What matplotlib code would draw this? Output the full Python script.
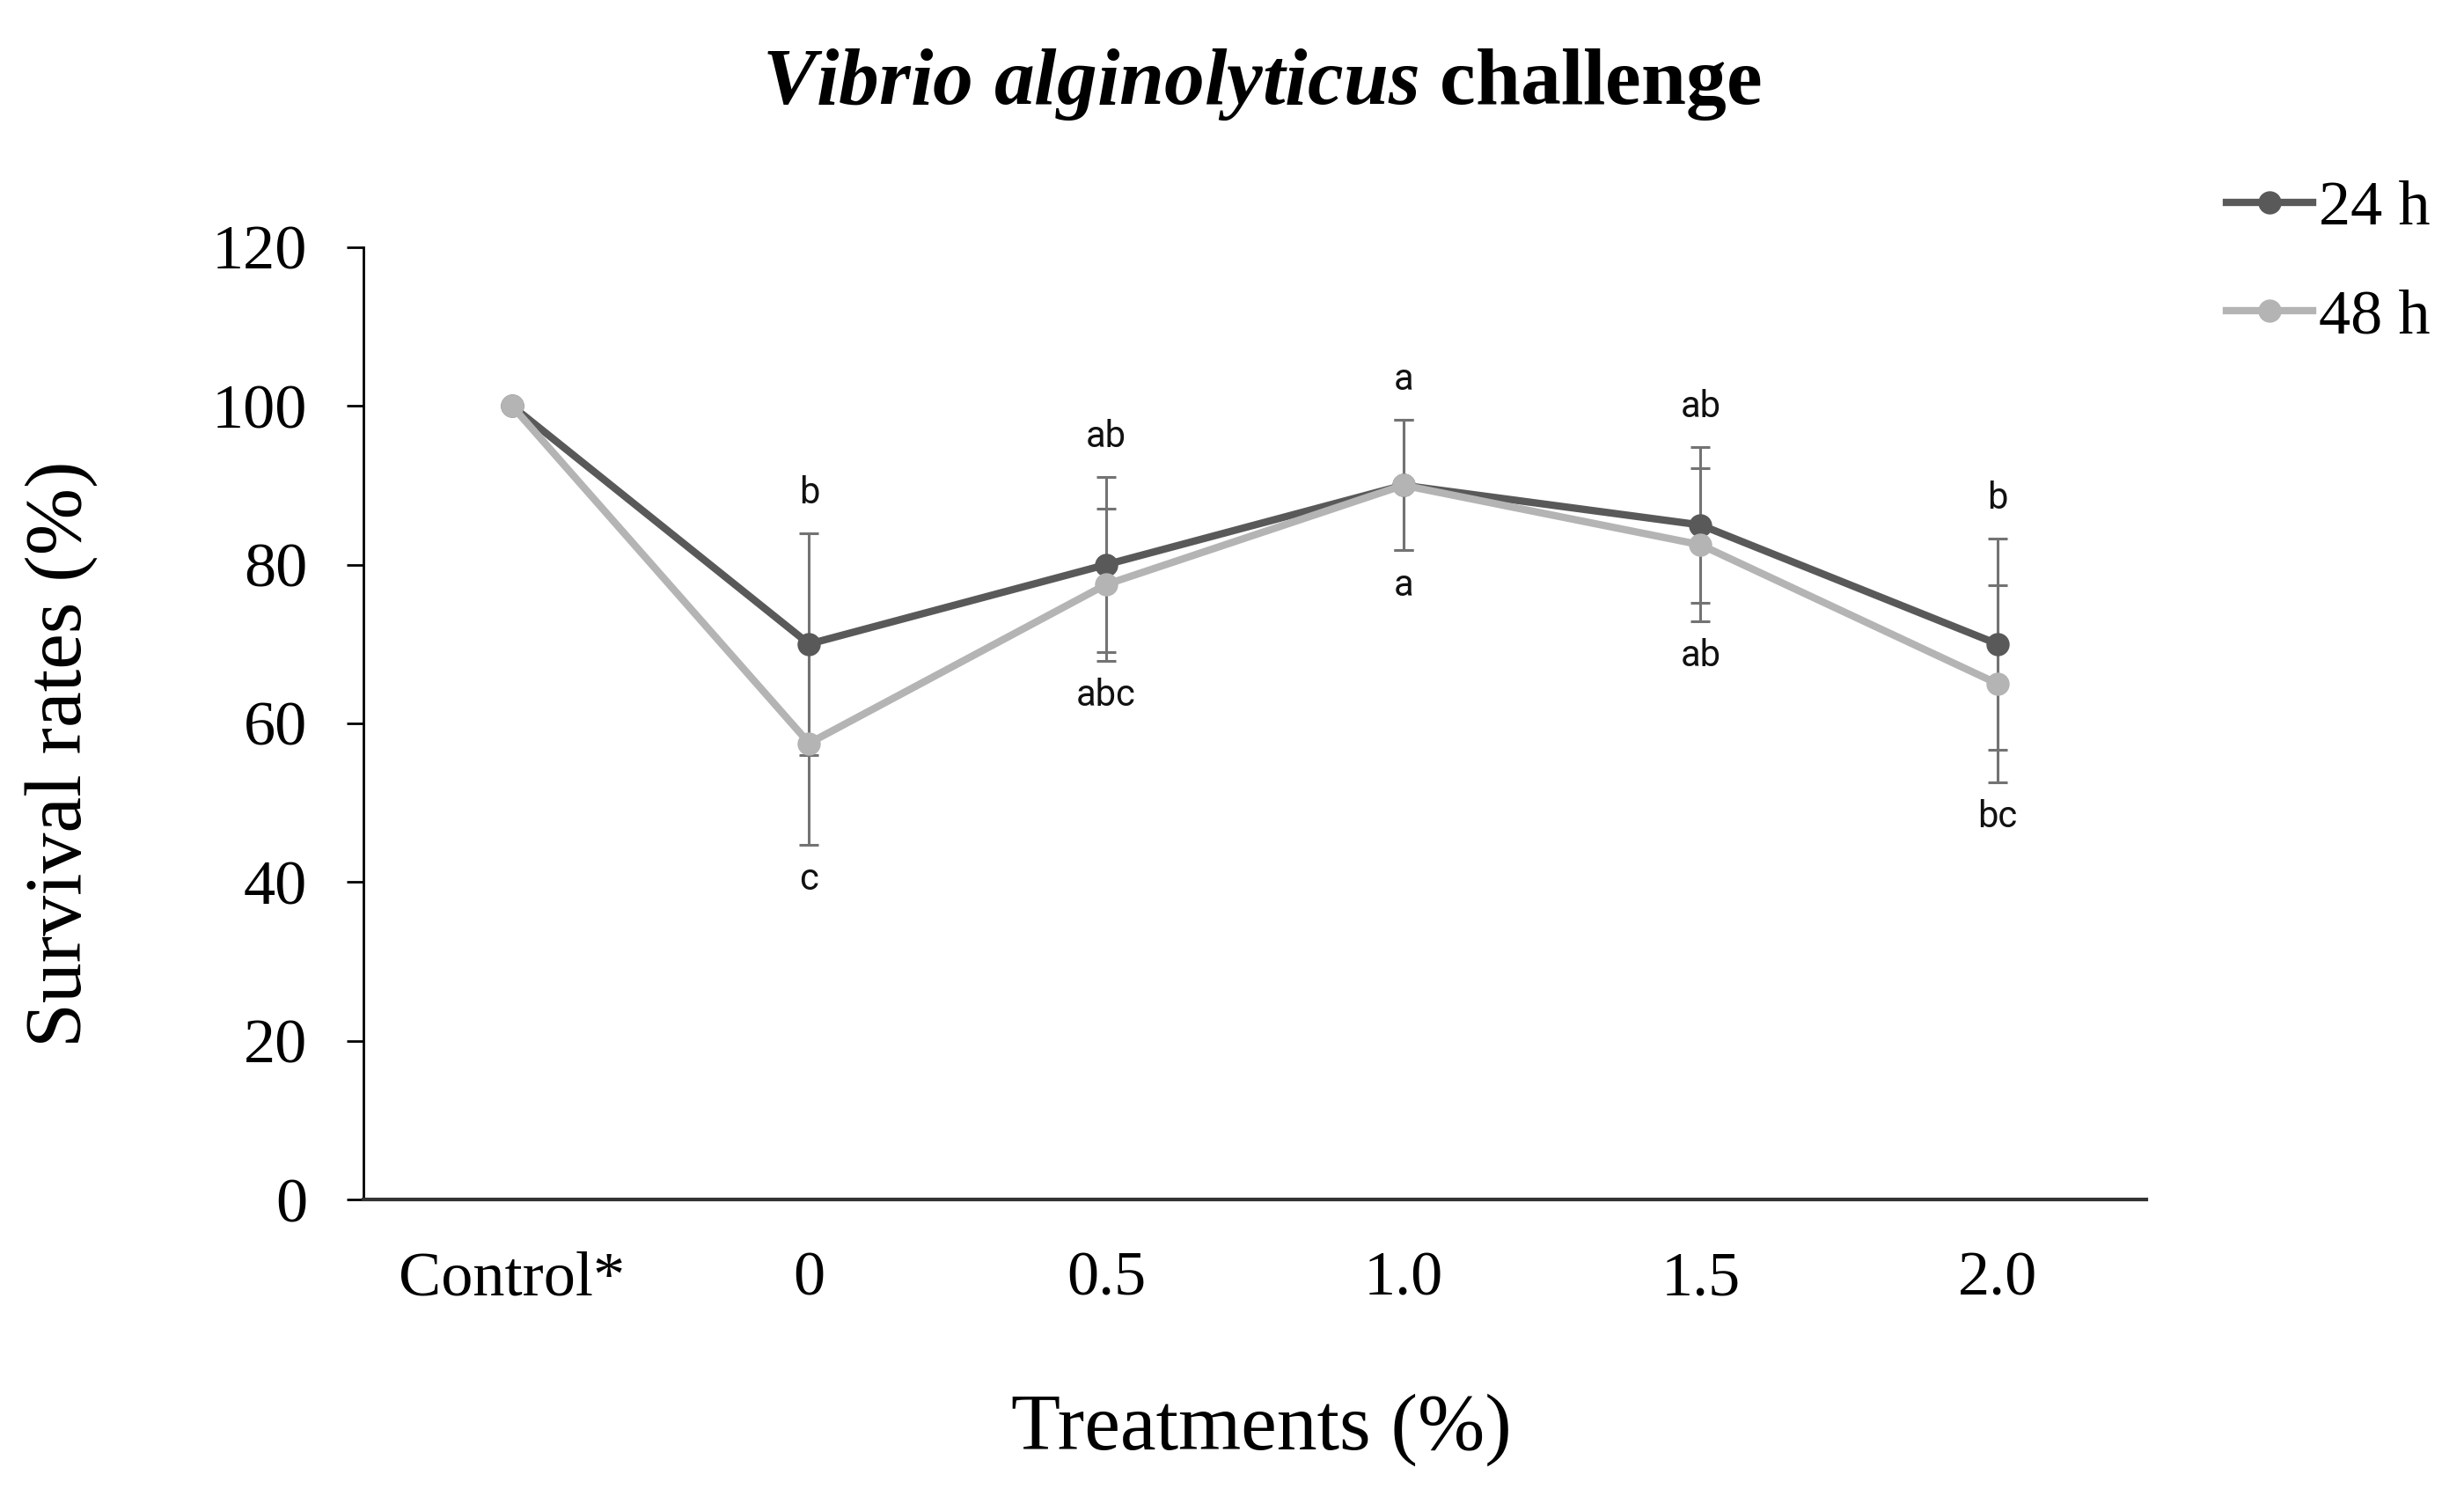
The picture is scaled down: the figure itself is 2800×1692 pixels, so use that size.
import numpy as np
import matplotlib
matplotlib.use("Agg")
import matplotlib.pyplot as plt

plt.rcParams['font.family'] = ['Liberation Serif', 'DejaVu Serif']
plt.rcParams['mathtext.fontset'] = 'custom'
plt.rcParams['mathtext.it'] = 'Liberation Serif:italic:bold'
plt.rcParams['mathtext.rm'] = 'Liberation Serif:bold'

# data
categories = ['Control*', '0', '0.5', '1.0', '1.5', '2.0']
surv_24h = [100, 70, 80, 90, 85, 70]
err_24h = [0, 14, 11, 8.2, 9.8, 13.3]
surv_48h = [100, 57.5, 77.5, 90, 82.5, 65]
err_48h = [0, 12.8, 9.6, 8.2, 9.6, 12.4]
letters_top = ['', 'b', 'ab', 'a', 'ab', 'b']
letters_bottom = ['', 'c', 'abc', 'a', 'ab', 'bc']

col_24 = '#595959'
col_48 = '#b4b4b4'
col_err = '#737373'

fig = plt.figure(figsize=(14, 8.46), dpi=200)
ax = fig.add_axes([0.1475, 0.1944, 0.871 - 0.1475, 0.834 - 0.1944])

x = np.arange(len(categories))

# error bars (control has none)
ax.errorbar(x[1:], surv_24h[1:], yerr=err_24h[1:], fmt='none', ecolor=col_err,
            elinewidth=1.1, capsize=3.8, capthick=1.1, zorder=1)
ax.errorbar(x[1:], surv_48h[1:], yerr=err_48h[1:], fmt='none', ecolor=col_err,
            elinewidth=1.1, capsize=3.8, capthick=1.1, zorder=1)

ax.plot(x, surv_24h, color=col_24, lw=3.0, marker='o', ms=8.5, label='24 h', zorder=3)
ax.plot(x, surv_48h, color=col_48, lw=3.0, marker='o', ms=8.5, label='48 h', zorder=4)

# significance letters
for i in range(len(categories)):
    if letters_top[i]:
        ax.annotate(letters_top[i], (x[i], surv_24h[i] + err_24h[i]), xytext=(0, 9),
                    textcoords='offset points', ha='center', va='bottom',
                    family='Roboto', fontsize=15, color='#111111')
    if letters_bottom[i]:
        ax.annotate(letters_bottom[i], (x[i], surv_48h[i] - err_48h[i]), xytext=(0, -7),
                    textcoords='offset points', ha='center', va='top',
                    family='Roboto', fontsize=15, color='#111111')

ax.set_xlim(-0.5, len(categories) - 0.5)
ax.set_ylim(0, 120)
ax.set_yticks(range(0, 121, 20))
ax.set_xticks(x)
ax.set_xticklabels(categories)

ax.spines['top'].set_visible(False)
ax.spines['right'].set_visible(False)
ax.spines['left'].set_linewidth(1.0)
ax.spines['bottom'].set_linewidth(1.5)
ax.spines['bottom'].set_color('#333333')
ax.tick_params(axis='y', direction='out', length=7, width=1.0, pad=16, labelsize=26)
ax.tick_params(axis='x', length=0, pad=21, labelsize=26)

fig.text(0.025, 0.4935, 'Survival rates (%)', rotation=90, ha='center', va='center', fontsize=33)
fig.text(0.512, 0.0396, 'Treatments (%)', ha='center', va='center', fontsize=33)
fig.text(0.512, 0.93, r'$\mathit{Vibrio\ alginolyticus}$ challenge', ha='center',
         va='baseline', fontsize=33, fontweight='bold')

fig.legend(loc='upper left', bbox_to_anchor=(0.9036, 0.879), frameon=False,
           fontsize=26, handlelength=1.35, handletextpad=0.1, labelspacing=0.8,
           borderpad=0, borderaxespad=0)

fig.savefig('out.png', dpi=200)
